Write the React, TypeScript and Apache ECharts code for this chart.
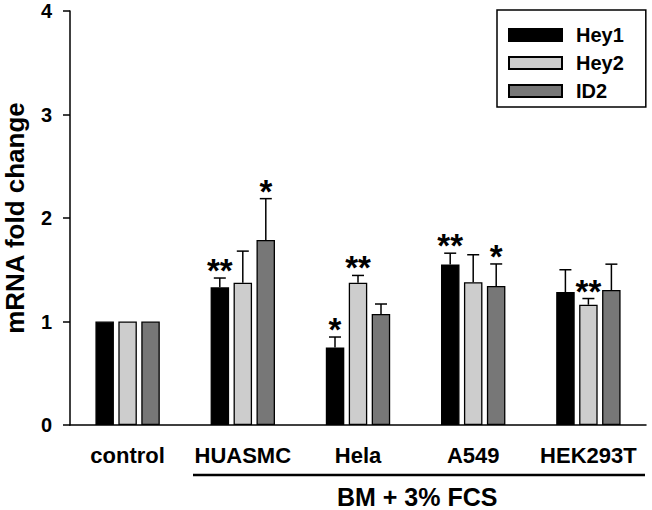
import React, { useEffect, useRef } from "react";
import * as echarts from "echarts";

const categories = ["control", "HUASMC", "Hela", "A549", "HEK293T"];
const seriesNames = ["Hey1", "Hey2", "ID2"];
const hey1 = [1, 1.33, 0.75, 1.55, 1.285];
const hey1Err = [0, 0.09, 0.1, 0.11, 0.215];
const hey2 = [1, 1.375, 1.375, 1.38, 1.162];
const hey2Err = [0, 0.305, 0.07, 0.265, 0.06];
const id2 = [1, 1.787, 1.072, 1.343, 1.304];
const id2Err = [0, 0.4, 0.097, 0.213, 0.25];
const sig1 = ["", "**", "*", "**", ""];
const sig2 = ["", "", "**", "", "**"];
const sig3 = ["", "*", "", "*", ""];
const yTicks = [0, 1, 2, 3, 4];
const groupLabel = "BM + 3% FCS";

const FONT = "'Liberation Sans', Arial, Helvetica, sans-serif";
const colors = ["#000000", "#cdcdcd", "#777777"];
const BAR_W = 18.5;
const BAR_STEP = 23;

export default function App() {
  const ref = useRef<HTMLDivElement>(null);
  useEffect(() => {
    if (!ref.current) return;
    const chart = echarts.init(ref.current, null, { renderer: "svg" });
    const values = [hey1, hey2, id2];
    const errs = [hey1Err, hey2Err, id2Err];
    const sigs = [sig1, sig2, sig3];

    const barSeries = seriesNames.map((name, i) => ({
      name,
      type: "bar",
      data: values[i],
      barWidth: BAR_W,
      barGap: "24%",
      itemStyle: { color: colors[i], borderColor: "#000", borderWidth: 1.3 },
      z: 2,
    }));

    const errSeries = seriesNames.map((name, i) => ({
      type: "custom",
      name: name + "-err",
      z: 3,
      silent: true,
      data: values[i].map((v, k) => [k, v, v + errs[i][k], sigs[i][k]]),
      renderItem: (params: any, api: any) => {
        const k = api.value(0);
        const top = api.coord([k, api.value(1)]);
        const hi = api.coord([k, api.value(2)]);
        const x = top[0] + (i - 1) * BAR_STEP;
        const children: any[] = [];
        const e = errs[i][k];
        if (e > 0) {
          children.push({
            type: "line",
            shape: { x1: x, y1: top[1], x2: x, y2: hi[1] },
            style: { stroke: "#000", lineWidth: 1.5 },
          });
          children.push({
            type: "line",
            shape: { x1: x - 6, y1: hi[1], x2: x + 6, y2: hi[1] },
            style: { stroke: "#000", lineWidth: 1.5 },
          });
        }
        const s = sigs[i][k];
        if (s) {
          children.push({
            type: "text",
            x: x,
            y: hi[1] + 9,
            style: {
              text: s,
              fontSize: 33,
              fontWeight: "bold",
              fontFamily: FONT,
              fill: "#000",
              align: "center",
              verticalAlign: "bottom",
            },
          });
        }
        return { type: "group", children };
      },
    }));

    chart.setOption({
      animation: false,
      backgroundColor: "#ffffff",
      grid: {
        left: 70,
        right: 6,
        top: 11,
        bottom: 85,
        containLabel: false,
        outerBoundsMode: "none",
      },
      legend: {
        data: seriesNames,
        orient: "vertical",
        left: 497,
        top: 10,
        icon: "rect",
        itemWidth: 53,
        itemHeight: 12,
        itemGap: 8,
        padding: [15, 22, 6, 11],
        borderColor: "#000",
        borderWidth: 1.5,
        selectedMode: false,
        textStyle: {
          fontSize: 20,
          fontWeight: "bold",
          fontFamily: FONT,
          color: "#000",
          lineHeight: 14,
          padding: [0, 0, 0, 9],
        },
      },
      xAxis: {
        type: "category",
        data: categories,
        boundaryGap: true,
        axisLine: { lineStyle: { color: "#000", width: 1.5 } },
        axisTick: { alignWithLabel: true, length: 5, lineStyle: { color: "#000", width: 1.5 } },
        axisLabel: {
          interval: 0,
          margin: 19,
          fontSize: 22,
          fontWeight: "bold",
          fontFamily: FONT,
          color: "#000",
        },
      },
      yAxis: {
        type: "value",
        min: 0,
        max: yTicks[yTicks.length - 1],
        interval: 1,
        name: "mRNA fold change",
        nameLocation: "middle",
        nameGap: 42,
        nameTextStyle: {
          fontSize: 26,
          lineHeight: 26,
          fontWeight: "bold",
          fontFamily: FONT,
          color: "#000",
        },
        splitLine: { show: false },
        axisLine: { show: true, lineStyle: { color: "#000", width: 1.5 } },
        axisTick: { show: true, length: 7, lineStyle: { color: "#000", width: 1.5 } },
        axisLabel: {
          margin: 18,
          fontSize: 20,
          fontWeight: "bold",
          fontFamily: FONT,
          color: "#000",
        },
      },
      graphic: [
        {
          type: "line",
          shape: { x1: 193, y1: 475, x2: 645, y2: 475 },
          style: { stroke: "#000", lineWidth: 2.5 },
        },
        {
          type: "text",
          x: 337,
          y: 497,
          style: {
            text: groupLabel,
            fontSize: 25,
            lineHeight: 25,
            fontWeight: "bold",
            fontFamily: FONT,
            fill: "#000",
            align: "left",
            verticalAlign: "middle",
          },
        },
      ],
      series: [...barSeries, ...errSeries],
    });
    return () => chart.dispose();
  }, []);
  return (
    <div
      ref={ref}
      style={{ position: "fixed", left: 0, top: 0, width: 652, height: 510, background: "#fff" }}
    />
  );
}
